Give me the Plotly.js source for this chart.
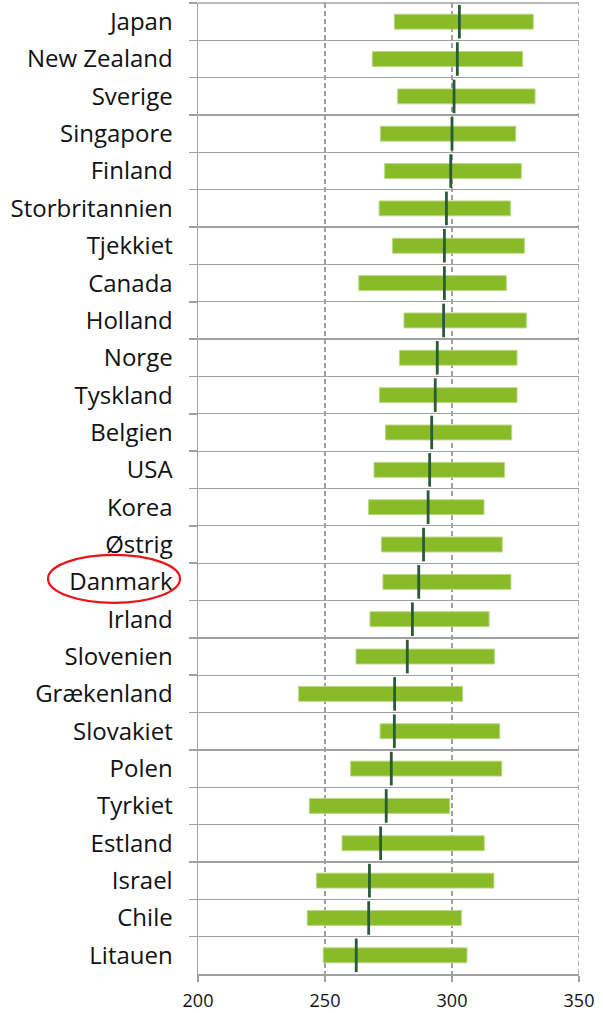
<!DOCTYPE html>
<html>
<head>
<meta charset="utf-8">
<script src="https://cdn.plot.ly/plotly-3.0.1.min.js"></script>
<style>
html,body{margin:0;padding:0;background:#fff;}
#chart{width:603px;height:1013px;}
</style>
</head>
<body>
<div id="chart"></div>
<script>
const countries = ["Japan","New Zealand","Sverige","Singapore","Finland","Storbritannien","Tjekkiet","Canada","Holland","Norge","Tyskland","Belgien","USA","Korea","Østrig","Danmark","Irland","Slovenien","Grækenland","Slovakiet","Polen","Tyrkiet","Estland","Israel","Chile","Litauen"];
const lowValues  = [277.3,268.6,278.6,271.8,273.5,271.3,276.6,263.3,281.1,279.3,271.4,273.8,269.3,267.1,272.2,272.8,267.7,262.2,239.6,271.7,260.1,243.8,256.7,246.6,243.0,249.3];
const highValues = [332.0,327.8,332.7,325.1,327.3,323.0,328.5,321.4,329.3,325.6,325.6,323.5,320.7,312.6,319.8,323.2,314.6,316.7,304.2,318.8,319.6,299.1,312.7,316.5,303.7,305.9];
const meanValues = [302.9,302.1,300.8,300.0,299.5,297.8,297.0,297.0,296.7,294.2,293.4,292.0,291.2,290.6,288.8,286.9,284.4,282.4,277.4,277.3,276.1,274.1,271.9,267.5,267.2,262.3];
const xTicks = [200,250,300,350];
const highlighted = "Danmark";

const barTrace = {
  type: "bar",
  orientation: "h",
  y: countries,
  base: lowValues,
  x: highValues.map((h, i) => h - lowValues[i]),
  width: 0.4,
  marker: {color: "#88bb27", line: {color: "#b9d98a", width: 1}},
  hoverinfo: "skip",
  showlegend: false
};
const meanTrace = {
  type: "scatter",
  mode: "markers",
  y: countries,
  x: meanValues,
  marker: {symbol: "line-ns-open", size: 24, color: "#2a5a38", line: {color: "#2a5a38", width: 2.8}},
  hoverinfo: "skip",
  showlegend: false
};

const L = 198, R = 579, T = 3, B = 974, W = 603, H = 1013;
const idx = countries.indexOf(highlighted);
const rowH = (B - T) / countries.length;
const cy = T + rowH * (idx + 0.5) - 3;
const toPy = p => (B - p) / (B - T);
const toPx = p => (p - L) / (R - L);

const layout = {
  width: W, height: H,
  margin: {l: L, r: W - R, t: T, b: H - B, pad: 0},
  paper_bgcolor: "#fff", plot_bgcolor: "#fff",
  font: {family: "Open Sans, Noto Sans, sans-serif", color: "#111"},
  bargap: 0.6,
  xaxis: {
    range: [200, 350], tickvals: xTicks, ticktext: xTicks.map(String),
    showgrid: true, gridcolor: "#a0a0a0", gridwidth: 1.6, griddash: "5px,3px",
    zeroline: false, showline: true, linecolor: "#a0a0a0", linewidth: 1.5,
    ticks: "outside", ticklen: 6, tickcolor: "#a0a0a0", tickwidth: 1.5,
    tickfont: {size: 18, color: "#111"}, ticklabelstandoff: 4, automargin: false
  },
  yaxis: {
    type: "category", categoryarray: countries, categoryorder: "array",
    range: [countries.length - 0.5, -0.5],
    tickson: "boundaries", showgrid: true, gridcolor: "#a0a0a0", gridwidth: 1.3,
    zeroline: false, showline: true, linecolor: "#a0a0a0", linewidth: 1.5,
    ticks: "outside", ticklen: 8, tickcolor: "#a0a0a0", tickwidth: 1.5,
    tickfont: {size: 24, color: "#111"}, ticklabelstandoff: 19, automargin: false
  },
  shapes: [
    {type: "line", xref: "paper", yref: "paper", x0: 0, x1: 1, y0: 1, y1: 1,
     line: {color: "#a0a0a0", width: 1.5}, layer: "below"},
    {type: "line", xref: "x", yref: "paper", x0: xTicks[xTicks.length - 1], x1: xTicks[xTicks.length - 1], y0: 0, y1: 1,
     line: {color: "#a0a0a0", width: 1.6, dash: "5px,3px"}, layer: "below"},
    {type: "circle", xref: "paper", yref: "paper",
     x0: toPx(48), x1: toPx(180),
     y0: toPy(cy + 24), y1: toPy(cy - 24),
     line: {color: "#e8141c", width: 2.2}}
  ]
};

Plotly.newPlot("chart", [barTrace, meanTrace], layout, {staticPlot: true, displayModeBar: false});
</script>
</body>
</html>
